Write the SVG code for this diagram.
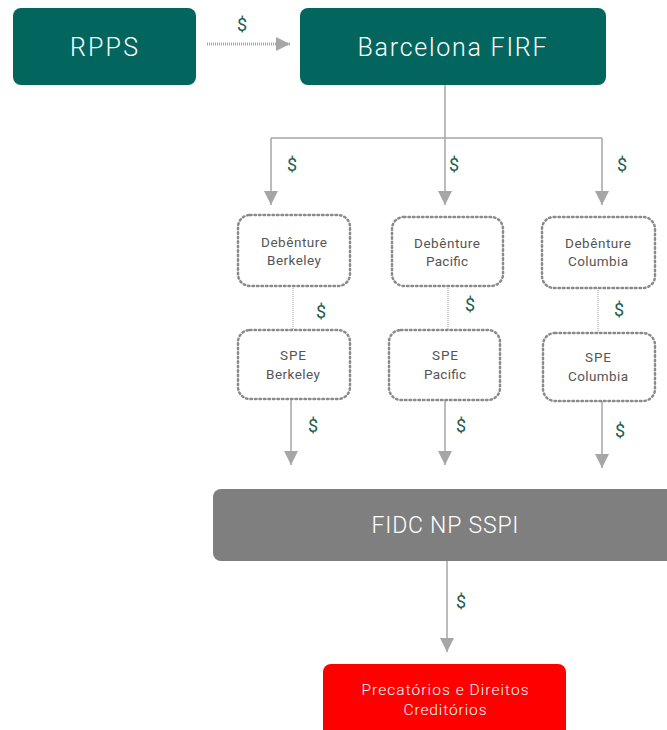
<svg xmlns="http://www.w3.org/2000/svg" width="667" height="730" viewBox="0 0 667 730">
<defs>
<style>
.teal{fill:#02665f}
.big{font-family:Roboto,"Liberation Sans",sans-serif;font-weight:300;fill:#ffffff;text-anchor:middle}
.small{font-family:Roboto,"Liberation Sans",sans-serif;font-size:13.5px;fill:#555555;text-anchor:middle}
.dol{font-family:Roboto,"Liberation Sans",sans-serif;font-size:18px;fill:#1e5e4b;text-anchor:middle}
.dbox{fill:#ffffff;stroke:#8a8a8a;stroke-width:2.5;stroke-dasharray:1.5 3;stroke-linecap:round}
.ln{stroke:#a6a6a6;stroke-width:1.5;fill:none}
.dl{stroke:#a0a0a0;stroke-width:1;stroke-dasharray:1 1;fill:none}
</style>
<marker id="ah" viewBox="0 0 10 10" refX="10" refY="5" markerWidth="14" markerHeight="14" markerUnits="userSpaceOnUse" orient="auto">
<path d="M0,0 L10,5 L0,10 Z" fill="#a6a6a6"/>
</marker>
</defs>
<g id="connectors">
<line x1="207" y1="44" x2="290" y2="44" stroke="#a6a6a6" stroke-width="3" stroke-dasharray="1 1" marker-end="url(#ah)"/>
<polyline class="ln" points="445,85 445,138"/>
<line class="ln" x1="271" y1="138" x2="602" y2="138"/>
<line class="ln" x1="271" y1="138" x2="271" y2="205" marker-end="url(#ah)"/>
<line class="ln" x1="445" y1="138" x2="445" y2="205" marker-end="url(#ah)"/>
<line class="ln" x1="602" y1="138" x2="602" y2="205" marker-end="url(#ah)"/>
<line class="dl" x1="293" y1="286" x2="293" y2="330"/>
<line class="dl" x1="448" y1="286" x2="448" y2="330"/>
<line class="dl" x1="598" y1="288" x2="598" y2="333"/>
<line class="ln" x1="291" y1="400" x2="291" y2="465" marker-end="url(#ah)"/>
<line class="ln" x1="445" y1="400" x2="445" y2="465" marker-end="url(#ah)"/>
<line class="ln" x1="602" y1="401" x2="602" y2="468" marker-end="url(#ah)"/>
<line class="ln" x1="447" y1="561" x2="447" y2="652" marker-end="url(#ah)"/>
<text class="dol" x="242" y="31">$</text>
<text class="dol" x="292" y="171">$</text>
<text class="dol" x="454" y="171">$</text>
<text class="dol" x="622" y="171">$</text>
<text class="dol" x="321" y="318">$</text>
<text class="dol" x="470" y="311">$</text>
<text class="dol" x="619" y="316">$</text>
<text class="dol" x="313" y="432">$</text>
<text class="dol" x="461" y="432">$</text>
<text class="dol" x="620" y="437">$</text>
<text class="dol" x="461" y="608">$</text>
</g>
<g id="rpps">
<rect class="teal" x="13" y="8" width="183" height="77" rx="8"/>
<text class="big" x="104" y="56" font-size="25" textLength="68" lengthAdjust="spacing">RPPS</text>
</g>
<g id="barcelona">
<rect class="teal" x="300" y="8" width="306" height="77" rx="8"/>
<text class="big" x="452" y="56" font-size="25" textLength="189" lengthAdjust="spacing">Barcelona FIRF</text>
</g>
<g id="deb-berkeley">
<rect class="dbox" x="238" y="215" width="112" height="71" rx="12"/>
<text class="small" x="294" y="247" textLength="66" lengthAdjust="spacing">Debênture</text>
<text class="small" x="294" y="265" textLength="54" lengthAdjust="spacing">Berkeley</text>
</g>
<g id="deb-pacific">
<rect class="dbox" x="392" y="217" width="111" height="69" rx="12"/>
<text class="small" x="447" y="248" textLength="66" lengthAdjust="spacing">Debênture</text>
<text class="small" x="447" y="266" textLength="42" lengthAdjust="spacing">Pacific</text>
</g>
<g id="deb-columbia">
<rect class="dbox" x="542" y="217" width="113" height="71" rx="12"/>
<text class="small" x="598" y="248" textLength="66" lengthAdjust="spacing">Debênture</text>
<text class="small" x="598" y="266" textLength="60" lengthAdjust="spacing">Columbia</text>
</g>
<g id="spe-berkeley">
<rect class="dbox" x="238" y="330" width="112" height="69" rx="12"/>
<text class="small" x="293" y="360" textLength="26" lengthAdjust="spacing">SPE</text>
<text class="small" x="293" y="379" textLength="54" lengthAdjust="spacing">Berkeley</text>
</g>
<g id="spe-pacific">
<rect class="dbox" x="389" y="330" width="111" height="70" rx="12"/>
<text class="small" x="445" y="360" textLength="26" lengthAdjust="spacing">SPE</text>
<text class="small" x="445" y="379" textLength="42" lengthAdjust="spacing">Pacific</text>
</g>
<g id="spe-columbia">
<rect class="dbox" x="543" y="333" width="112" height="68" rx="12"/>
<text class="small" x="598" y="362" textLength="26" lengthAdjust="spacing">SPE</text>
<text class="small" x="598" y="381" textLength="60" lengthAdjust="spacing">Columbia</text>
</g>
<g id="fidc">
<rect x="213" y="489" width="470" height="72" rx="8" fill="#7f7f7f"/>
<text class="big" x="445" y="533" font-size="23" textLength="147" lengthAdjust="spacing">FIDC NP SSPI</text>
</g>
<g id="precatorios">
<rect x="323" y="664" width="243" height="80" rx="8" fill="#ff0000"/>
<text class="big" x="445" y="695" font-size="15.5" textLength="167" lengthAdjust="spacing">Precatórios e Direitos</text>
<text class="big" x="445" y="715" font-size="15.5" textLength="83" lengthAdjust="spacing">Creditórios</text>
</g>
</svg>
